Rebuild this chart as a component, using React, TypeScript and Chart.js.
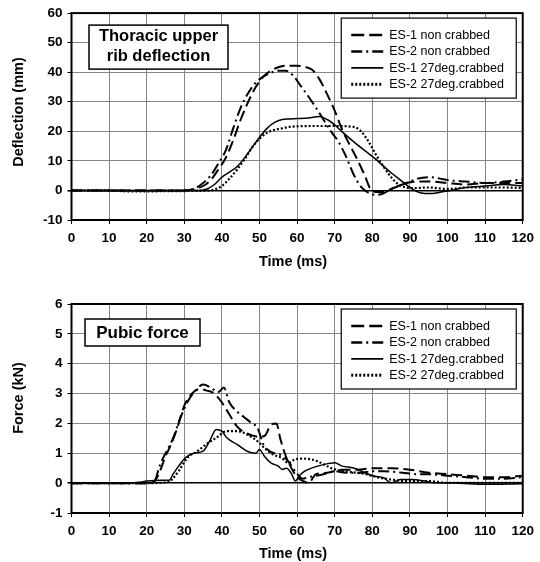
import { useEffect, useRef } from "react";
import { Chart, registerables } from "chart.js";

Chart.register(...registerables);

const FONT = "'Liberation Sans', Arial, Helvetica, sans-serif";

const seriesNames = ["ES-1 non crabbed", "ES-2 non crabbed", "ES-1 27deg.crabbed", "ES-2 27deg.crabbed"];

// ---------- Thoracic upper rib deflection (mm) ----------
const defl1NonT = [0, 10, 20, 30, 31, 33, 35, 37, 39, 41, 43, 45, 47, 49, 51, 53, 55, 57, 60, 62, 64, 66, 68, 70, 72, 74, 76, 78, 79.5, 81, 83, 85, 87, 89, 92, 96, 100, 105, 110, 115, 120];
const defl1NonV = [0, 0, 0, 0, 0.1, 0.5, 1.5, 3.5, 7, 11, 17, 24, 30, 35, 38.5, 40.5, 41.7, 42.2, 42.2, 41.8, 40.8, 37.5, 32.5, 27, 20.5, 15.4, 10.5, 5, 0.5, -0.5, -0.5, 0.5, 1.5, 2.5, 3, 3, 2.5, 2, 2.5, 2.5, 2.5];

const defl2NonT = [0, 10, 20, 30, 31, 33, 35, 37, 39, 41, 43, 45, 47, 49, 51, 53, 55, 57, 59, 61, 63, 65, 67, 69, 71, 73, 75, 77, 79, 81, 83, 85, 88, 90, 92, 95, 98, 100, 105, 110, 115, 120];
const defl2NonV = [0, 0, 0, 0, 0.2, 0.8, 2.5, 5, 9, 13.5, 21, 28, 33, 36.5, 38.5, 39.8, 40.5, 40.5, 38.8, 35.3, 31.8, 28, 24, 20, 16.5, 11.5, 5.5, 1.2, -0.8, -1.5, -1, 0.5, 2, 3, 4, 4.5, 4, 3.5, 3, 2.5, 3, 3.8];

const defl1CrabT = [0, 10, 20, 30, 34, 36, 38, 40, 42, 44, 46, 48, 50, 52, 54, 56, 58, 60, 63, 66, 68, 70, 72, 75, 80, 85, 88, 90, 92, 94, 96, 98, 100, 105, 110, 115, 120];
const defl1CrabV = [0, 0, 0, 0, 0, 0.5, 2, 4.5, 6.2, 8, 11, 14.5, 18, 21, 23, 24, 24.2, 24.3, 24.5, 25, 24, 22.2, 19.8, 16.5, 11.5, 6, 3, 1, -0.5, -1, -1, -0.6, -0.2, 1, 1.5, 2, 1.5];

const defl2CrabT = [0, 10, 15, 20, 30, 37, 38, 40, 42, 44, 46, 48, 50, 52, 54, 56, 58, 60, 65, 70, 75, 77, 79, 81, 83, 85, 87, 89, 91, 95, 100, 105, 110, 115, 120];
const defl2CrabV = [0, 0, -0.3, -0.3, -0.2, 0, 0.3, 1.5, 4, 7, 10.5, 14.5, 17.5, 19.5, 20.5, 21, 21.5, 21.7, 21.8, 21.8, 21.5, 20, 16.5, 12, 8, 4.5, 2, 1, 0.8, 1, 0.5, 1, 1, 1, 0.8];

// ---------- Pubic force (kN) ----------
const force1NonT = [0, 10, 20, 22, 23.5, 25, 26.5, 28, 30, 32, 34, 36, 38, 40, 42, 44, 46, 48, 50, 51.5, 53, 54.5, 55.5, 57, 58.5, 60, 62, 63, 65, 68, 72, 76, 80, 85, 90, 95, 100, 105, 110, 115, 120];
const force1NonV = [0, 0, 0, 0.05, 0.4, 0.9, 1.3, 1.8, 2.6, 3.0, 3.15, 3.1, 3.0, 2.7, 2.3, 1.9, 1.7, 1.6, 1.55, 1.6, 1.95, 2.0, 1.5, 0.9, 0.5, 0.2, 0.05, 0, 0.3, 0.35, 0.45, 0.45, 0.5, 0.5, 0.45, 0.35, 0.3, 0.25, 0.2, 0.2, 0.25];

const force2NonT = [0, 10, 20, 22, 23.5, 25, 27, 29, 31, 33, 35, 37, 39, 40.5, 42, 44, 46, 48, 49.5, 51, 53, 55.5, 57.5, 59.5, 61.5, 63, 67, 70, 73, 77, 80, 83, 88, 92, 95, 100, 105, 110, 115, 120];
const force2NonV = [0, 0, 0, 0.05, 0.6, 1.0, 1.5, 2.2, 2.75, 3.1, 3.3, 3.2, 3.05, 3.2, 2.7, 2.4, 2.2, 2.0, 1.85, 1.3, 1.05, 0.95, 0.75, 0.4, 0.15, 0.2, 0.3, 0.4, 0.35, 0.35, 0.4, 0.4, 0.35, 0.3, 0.3, 0.25, 0.2, 0.15, 0.15, 0.2];

const force1CrabT = [0, 10, 18, 20, 24, 26, 27, 28.5, 30.3, 32.5, 35, 36.7, 38.5, 40, 41.3, 44, 46.7, 49, 50, 51.3, 53, 55, 56, 57.2, 58.6, 59.5, 60.5, 62, 64, 67, 70, 72, 75, 78, 80.5, 83, 85, 87.5, 90.5, 94, 96.5, 100, 109, 120];
const force1CrabV = [0, 0, 0.03, 0.07, 0.1, 0.1, 0.3, 0.57, 0.85, 1.0, 1.07, 1.4, 1.8, 1.74, 1.52, 1.3, 1.07, 1.0, 1.13, 0.9, 0.68, 0.57, 0.46, 0.5, 0.29, 0.07, 0.23, 0.4, 0.51, 0.62, 0.68, 0.57, 0.51, 0.35, 0.23, 0.18, 0.01, 0.12, 0.12, 0.07, 0.01, 0.01, -0.04, -0.02];

const force2CrabT = [0, 10, 20, 26, 26.7, 28.5, 30.8, 33.5, 35.8, 38.5, 41.3, 44, 46.7, 49.5, 51.3, 53.6, 55.8, 57.6, 59.5, 61.3, 64, 66.3, 69, 72.2, 75.9, 78.6, 81.3, 85, 88.6, 95, 100, 110, 120];
const force2CrabV = [0, 0, 0, 0.05, 0.12, 0.4, 0.85, 1.07, 1.3, 1.52, 1.74, 1.74, 1.63, 1.4, 1.18, 0.96, 0.85, 0.68, 0.8, 0.82, 0.79, 0.68, 0.51, 0.4, 0.35, 0.29, 0.2, 0.12, 0.07, 0.07, 0.01, 0.01, 0.01];

// line styles (dash, dash-dot, solid, dotted)
const lineDashes: number[][] = [[11, 5], [11, 4, 2, 4], [], [2, 2]];
const lineWidths = [2, 2, 1.5, 2.2];
const legendDashes: number[][] = [[13, 5], [11, 4, 2, 4], [], [2, 2]];
const legendWidths = [2.5, 2.5, 1.8, 3];

const W = 540;
const H = 281;
const PLOT_LEFT = 71.5;
const PLOT_RIGHT = 523.5;

type Cfg = {
  t: number[][];
  v: number[][];
  yMin: number;
  yMax: number;
  yStep: number;
  areaTop: number;
  areaBottom: number;
  titleLines: string[];
  titleFont: number;
  titleBox: { dx: number; dy: number; w: number; h: number; baselines: number[] };
  yTitle: string;
  yTitleY: number;
  xTitleDy: number;
};

function overlay(cfg: Cfg) {
  return {
    id: "overlay",
    afterDatasetsDraw(chart: any) {
      const { ctx, chartArea: a } = chart;
      ctx.save();
      // frame
      ctx.strokeStyle = "#000";
      ctx.lineWidth = 2;
      ctx.setLineDash([]);
      ctx.strokeRect(a.left, a.top, a.right - a.left, a.bottom - a.top);

      // title box
      const tb = cfg.titleBox;
      const bx = a.left + tb.dx;
      const by = a.top + tb.dy;
      ctx.fillStyle = "#fff";
      ctx.fillRect(bx, by, tb.w, tb.h);
      ctx.lineWidth = 1.5;
      ctx.strokeRect(bx, by, tb.w, tb.h);
      ctx.fillStyle = "#000";
      ctx.font = `bold ${cfg.titleFont}px ${FONT}`;
      ctx.textAlign = "center";
      ctx.textBaseline = "alphabetic";
      cfg.titleLines.forEach((line, i) => {
        ctx.fillText(line, bx + tb.w / 2, a.top + tb.baselines[i]);
      });

      // legend
      const lx = a.right - 181.5;
      const ly = a.top + 5;
      const lw = 175;
      const lh = 80;
      ctx.fillStyle = "#fff";
      ctx.fillRect(lx, ly, lw, lh);
      ctx.lineWidth = 1.2;
      ctx.strokeStyle = "#000";
      ctx.strokeRect(lx, ly, lw, lh);
      ctx.font = `12.5px ${FONT}`;
      ctx.textAlign = "left";
      ctx.textBaseline = "middle";
      seriesNames.forEach((name, i) => {
        const ry = ly + 17 + i * 16.4;
        ctx.beginPath();
        ctx.setLineDash(legendDashes[i]);
        ctx.lineWidth = legendWidths[i];
        ctx.lineCap = "butt";
        ctx.moveTo(lx + 10, ry);
        ctx.lineTo(lx + 42, ry);
        ctx.stroke();
        ctx.setLineDash([]);
        ctx.fillStyle = "#000";
        ctx.fillText(name, lx + 48, ry + 0.5);
      });
      ctx.restore();
    },
    afterDraw(chart: any) {
      const { ctx, chartArea: a } = chart;
      ctx.save();
      ctx.fillStyle = "#000";
      ctx.font = `bold 14.5px ${FONT}`;
      ctx.textAlign = "center";
      ctx.textBaseline = "middle";
      ctx.fillText("Time (ms)", 293, a.bottom + cfg.xTitleDy);
      ctx.translate(18.5, cfg.yTitleY);
      ctx.rotate(-Math.PI / 2);
      ctx.fillText(cfg.yTitle, 0, 0);
      ctx.restore();
    },
  };
}

function buildConfig(cfg: Cfg): any {
  const datasets = seriesNames.map((name, i) => ({
    label: name,
    data: cfg.t[i].map((x, k) => ({ x, y: cfg.v[i][k] })),
    borderColor: "#000",
    borderWidth: lineWidths[i],
    borderDash: lineDashes[i],
    borderCapStyle: "butt",
    pointRadius: 0,
    fill: false,
    cubicInterpolationMode: "monotone",
  }));
  const tickFont = { family: FONT, size: 13.5, weight: "bold" as const };
  return {
    type: "line",
    data: { datasets },
    plugins: [overlay(cfg)],
    options: {
      responsive: false,
      animation: false,
      devicePixelRatio: 1,
      layout: { padding: { top: cfg.areaTop, right: W - PLOT_RIGHT, left: 0, bottom: 0 } },
      plugins: { legend: { display: false }, tooltip: { enabled: false }, title: { display: false } },
      scales: {
        x: {
          type: "linear",
          min: 0,
          max: 120,
          ticks: { stepSize: 10, font: tickFont, color: "#000", padding: 6, maxRotation: 0, autoSkip: false },
          grid: { color: "#858585", lineWidth: 1, tickLength: 4, tickColor: "#000" },
          border: { display: false },
          afterFit: (s: any) => {
            s.height = H - cfg.areaBottom;
          },
        },
        y: {
          type: "linear",
          min: cfg.yMin,
          max: cfg.yMax,
          ticks: { stepSize: cfg.yStep, font: tickFont, color: "#000", padding: 5 },
          grid: {
            color: (c: any) => (c.tick && c.tick.value === 0 ? "#000" : "#858585"),
            lineWidth: (c: any) => (c.tick && c.tick.value === 0 ? 1.6 : 1),
            tickLength: 4,
            tickColor: "#000",
          },
          border: { display: false },
          afterFit: (s: any) => {
            s.width = PLOT_LEFT;
          },
        },
      },
    },
  };
}

const topCfg: Cfg = {
  t: [defl1NonT, defl2NonT, defl1CrabT, defl2CrabT],
  v: [defl1NonV, defl2NonV, defl1CrabV, defl2CrabV],
  yMin: -10,
  yMax: 60,
  yStep: 10,
  areaTop: 12,
  areaBottom: 220,
  titleLines: ["Thoracic upper", "rib deflection"],
  titleFont: 16.5,
  titleBox: { dx: 17.5, dy: 12, w: 139, h: 44, baselines: [27.5, 48] },
  yTitle: "Deflection (mm)",
  yTitleY: 112,
  xTitleDy: 41.5,
};

const bottomCfg: Cfg = {
  t: [force1NonT, force2NonT, force1CrabT, force2CrabT],
  v: [force1NonV, force2NonV, force1CrabV, force2CrabV],
  yMin: -1,
  yMax: 6,
  yStep: 1,
  areaTop: 23,
  areaBottom: 232,
  titleLines: ["Pubic force"],
  titleFont: 17,
  titleBox: { dx: 13.5, dy: 15, w: 115, h: 27, baselines: [34.3] },
  yTitle: "Force (kN)",
  yTitleY: 117,
  xTitleDy: 40.5,
};

function Panel({ cfg }: { cfg: Cfg }) {
  const ref = useRef<HTMLCanvasElement | null>(null);
  useEffect(() => {
    if (!ref.current) return;
    const chart = new Chart(ref.current, buildConfig(cfg));
    return () => chart.destroy();
  }, [cfg]);
  return <canvas ref={ref} width={W} height={H} style={{ display: "block", width: W, height: H }} />;
}

export default function App() {
  return (
    <div style={{ position: "absolute", left: 0, top: 0, width: W, height: 562, background: "#fff" }}>
      <Panel cfg={topCfg} />
      <Panel cfg={bottomCfg} />
    </div>
  );
}
